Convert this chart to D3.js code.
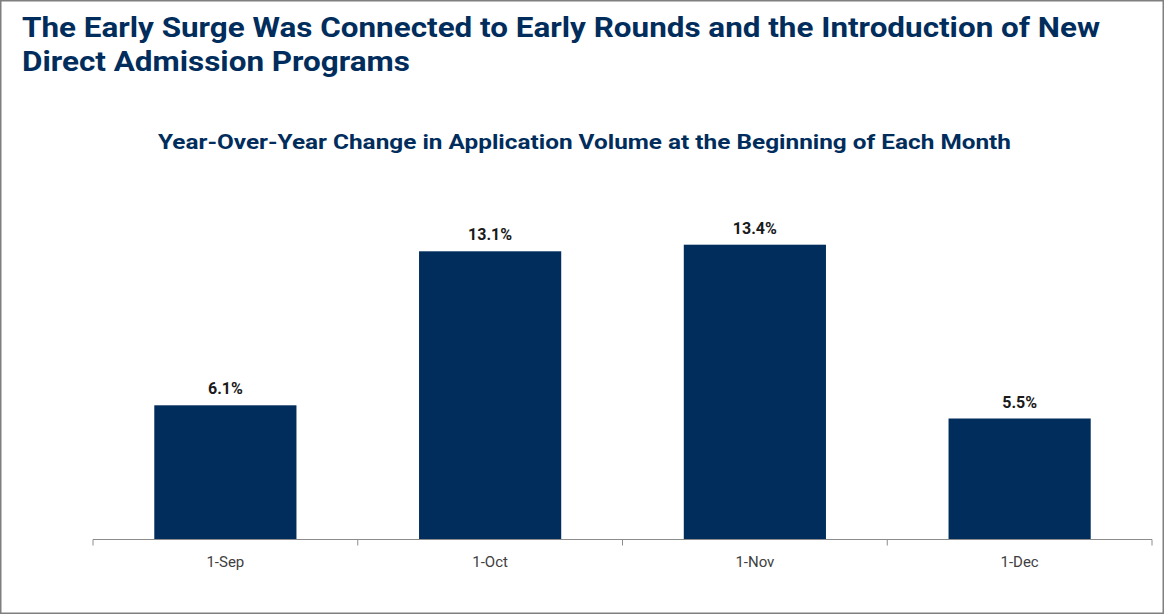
<!DOCTYPE html>
<html>
<head>
<meta charset="utf-8">
<script src="https://cdn.jsdelivr.net/npm/d3@7"></script>
<style>
  html, body { margin: 0; padding: 0; background: #fff; }
  svg { display: block; }
</style>
</head>
<body>
<div id="chart"></div>
<script>
// chart data
const categories = ['1-Sep', '1-Oct', '1-Nov', '1-Dec'];
const values = [6.1, 13.1, 13.4, 5.5];
const titleLines = [
    'The Early Surge Was Connected to Early Rounds and the Introduction of New',
    'Direct Admission Programs'
];
const subtitle = 'Year-Over-Year Change in Application Volume at the Beginning of Each Month';

const width = 1166;
const height = 614;
const navy = '#002d5c';
const font = 'Roboto, "Noto Sans", sans-serif';

const svg = d3.select('#chart').append('svg')
    .attr('width', width)
    .attr('height', height);

// frame
svg.append('rect')
    .attr('x', 0.75).attr('y', 0.75)
    .attr('width', width - 3.5).attr('height', height - 1.5)
    .attr('fill', '#fff')
    .attr('stroke', '#7f7f7f')
    .attr('stroke-width', 1.5);

// title
const titleWidths = [1078, 388];
titleLines.forEach((t, i) => {
    svg.append('text')
        .attr('x', 22)
        .attr('y', 37 + i * 34)
        .attr('textLength', titleWidths[i])
        .attr('lengthAdjust', 'spacingAndGlyphs')
        .style('font-family', font)
        .style('font-weight', 700)
        .style('font-size', '28px')
        .style('fill', navy)
        .text(t);
});

svg.append('text')
    .attr('x', 158)
    .attr('y', 149)
    .attr('textLength', 853)
    .attr('lengthAdjust', 'spacingAndGlyphs')
    .style('font-family', font)
    .style('font-weight', 700)
    .style('font-size', '20px')
    .style('fill', navy)
    .text(subtitle);

// scales
const x = d3.scaleBand()
    .domain(categories)
    .range([93, 1152])
    .paddingInner(0)
    .paddingOuter(0);

const y = d3.scaleLinear()
    .domain([0, 16])
    .range([539.5, 187.5]);

const barW = x.bandwidth() * 0.537;

// bars
svg.selectAll('.bar')
    .data(values)
    .enter().append('rect')
    .attr('class', 'bar')
    .attr('x', (d, i) => x(categories[i]) + (x.bandwidth() - barW) / 2)
    .attr('y', d => y(d))
    .attr('width', barW)
    .attr('height', d => y(0) - y(d))
    .style('fill', navy);

// value labels
svg.selectAll('.val')
    .data(values)
    .enter().append('text')
    .attr('class', 'val')
    .attr('x', (d, i) => x(categories[i]) + x.bandwidth() / 2)
    .attr('y', d => y(d) - 11)
    .attr('text-anchor', 'middle')
    .style('font-family', font)
    .style('font-weight', 700)
    .style('font-size', '16px')
    .style('fill', '#1a1a1a')
    .text(d => d.toFixed(1) + '%');

// x axis with boundary ticks
const axis = svg.append('g')
    .attr('transform', `translate(0,${y(0)})`);

axis.append('line')
    .attr('x1', x.range()[0]).attr('x2', x.range()[1])
    .attr('stroke', '#8c8c8c').attr('stroke-width', 1);

const bounds = categories.map(c => x(c)).concat([x.range()[1]]);
axis.selectAll('.tick')
    .data(bounds)
    .enter().append('line')
    .attr('x1', d => d).attr('x2', d => d)
    .attr('y1', 0).attr('y2', 6)
    .attr('stroke', '#8c8c8c').attr('stroke-width', 1);

axis.selectAll('.cat')
    .data(categories)
    .enter().append('text')
    .attr('x', d => x(d) + x.bandwidth() / 2)
    .attr('y', 27.5)
    .attr('text-anchor', 'middle')
    .style('font-family', font)
    .style('font-size', '15px')
    .style('fill', '#404040')
    .text(d => d);
</script>
</body>
</html>
